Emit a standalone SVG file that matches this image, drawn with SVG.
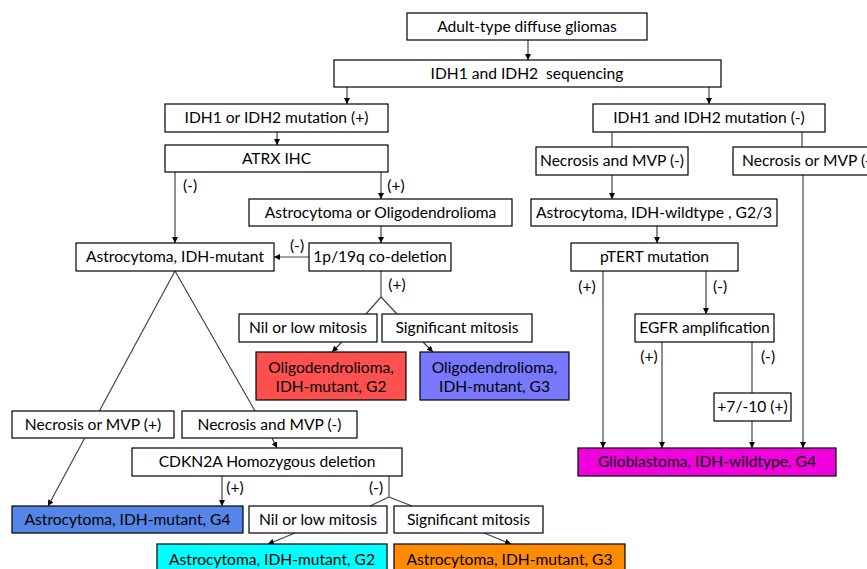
<svg xmlns="http://www.w3.org/2000/svg" width="867" height="569" viewBox="0 0 867 569">
<defs>
<marker id="ah" viewBox="0 0 6 6" refX="6" refY="3" markerWidth="6" markerHeight="6" markerUnits="userSpaceOnUse" orient="auto">
<path d="M0,0 L6,3 L0,6 z" fill="#000"/>
</marker>
<style>
rect{stroke:#000;stroke-width:1.2;fill:#fff}
text{font-family:Lato,"Liberation Sans",sans-serif;font-size:15.6px;fill:#000;text-anchor:middle}
.lb{font-size:15.6px}
#connectors line{stroke:#444;stroke-width:1.2;fill:none}
#connectors .a{marker-end:url(#ah)}
</style>
</defs>
<rect x="0" y="0" width="867" height="569" style="fill:#fff;stroke:none"/>
<g id="connectors">
<line class="a" x1="528" y1="40" x2="528" y2="60"/>
<line class="a" x1="347" y1="87" x2="347" y2="104"/>
<line class="a" x1="709" y1="87" x2="709" y2="104"/>
<line class="a" x1="277" y1="132" x2="277" y2="145"/>
<line class="a" x1="175" y1="172" x2="175" y2="243"/>
<line class="a" x1="381" y1="172" x2="381" y2="199"/>
<line class="a" x1="381" y1="226" x2="381" y2="243"/>
<line class="a" x1="309" y1="257" x2="274" y2="257"/>
<line x1="381" y1="271" x2="381" y2="297"/>
<line x1="381" y1="297" x2="366" y2="314"/>
<line x1="381" y1="297" x2="397" y2="314"/>
<line class="a" x1="342" y1="342" x2="332" y2="352"/>
<line class="a" x1="423" y1="342" x2="433" y2="352"/>
<line class="a" x1="175" y1="271" x2="48" y2="506"/>
<line x1="175" y1="271" x2="255" y2="411"/>
<line class="a" x1="272" y1="438" x2="277" y2="448"/>
<line class="a" x1="222" y1="476" x2="222" y2="506"/>
<line x1="389" y1="476" x2="389" y2="497"/>
<line x1="389" y1="497" x2="370" y2="506"/>
<line x1="389" y1="497" x2="412" y2="506"/>
<line class="a" x1="295" y1="533" x2="268" y2="544"/>
<line class="a" x1="484" y1="533" x2="511" y2="544"/>
<line x1="612" y1="132" x2="612" y2="147"/>
<line x1="802" y1="132" x2="802" y2="147"/>
<line class="a" x1="612" y1="175" x2="612" y2="199"/>
<line class="a" x1="657" y1="226" x2="657" y2="243"/>
<line class="a" x1="603" y1="271" x2="603" y2="448"/>
<line class="a" x1="706" y1="271" x2="706" y2="314"/>
<line class="a" x1="662" y1="342" x2="662" y2="448"/>
<line x1="752" y1="342" x2="752" y2="393"/>
<line class="a" x1="752" y1="421" x2="752" y2="448"/>
<line class="a" x1="803" y1="175" x2="803" y2="448"/>
<text class="lb" x="190" y="191">(-)</text>
<text class="lb" x="396" y="191">(+)</text>
<text class="lb" x="297" y="251">(-)</text>
<text class="lb" x="397" y="290">(+)</text>
<text class="lb" x="587" y="292">(+)</text>
<text class="lb" x="720" y="292">(-)</text>
<text class="lb" x="649" y="362">(+)</text>
<text class="lb" x="768" y="362">(-)</text>
<text class="lb" x="235" y="493">(+)</text>
<text class="lb" x="376" y="493">(-)</text>
</g>
<g id="n-adult"><rect x="407" y="13" width="240" height="27"/><text x="527" y="32">Adult-type diffuse gliomas</text></g>
<g id="n-seq"><rect x="334" y="60" width="387" height="27"/><text x="527" y="79" xml:space="preserve">IDH1 and IDH2  sequencing</text></g>
<g id="n-idhpos"><rect x="165" y="104" width="223" height="28"/><text x="276.5" y="123">IDH1 or IDH2 mutation (+)</text></g>
<g id="n-idhneg"><rect x="593" y="104" width="232" height="28"/><text x="709" y="123">IDH1 and IDH2 mutation (-)</text></g>
<g id="n-atrx"><rect x="165" y="145" width="223" height="27"/><text x="276.5" y="164">ATRX IHC</text></g>
<g id="n-necneg-r"><rect x="536" y="147" width="152" height="28"/><text x="612" y="166">Necrosis and MVP (-)</text></g>
<g id="n-necpos-r"><rect x="733" y="147" width="140" height="28"/><text x="742" y="166" style="text-anchor:start">Necrosis or MVP (+)</text></g>
<g id="n-astroligo"><rect x="249" y="199" width="263" height="27"/><text x="380.5" y="218">Astrocytoma or Oligodendrolioma</text></g>
<g id="n-astrowt"><rect x="531" y="199" width="246" height="27"/><text x="654" y="218">Astrocytoma, IDH-wildtype , G2/3</text></g>
<g id="n-astromut"><rect x="76" y="243" width="198" height="28"/><text x="175" y="262">Astrocytoma, IDH-mutant</text></g>
<g id="n-codel"><rect x="309" y="243" width="142" height="28"/><text x="380" y="262">1p/19q co-deletion</text></g>
<g id="n-ptert"><rect x="571" y="243" width="167" height="28"/><text x="654.5" y="262">pTERT mutation</text></g>
<g id="n-nil1"><rect x="239" y="314" width="138" height="28"/><text x="308" y="333">Nil or low mitosis</text></g>
<g id="n-sig1"><rect x="382" y="314" width="150" height="28"/><text x="457" y="333">Significant mitosis</text></g>
<g id="n-egfr"><rect x="635" y="314" width="139" height="28"/><text x="704.5" y="333">EGFR amplification</text></g>
<g id="n-oligo2"><rect x="256" y="352" width="150" height="48" style="fill:#ff5050"/><text x="331" y="373">Oligodendrolioma,</text><text x="331" y="392">IDH-mutant, G2</text></g>
<g id="n-oligo3"><rect x="420" y="352" width="149" height="48" style="fill:#7878ff"/><text x="494.5" y="373">Oligodendrolioma,</text><text x="494.5" y="392">IDH-mutant, G3</text></g>
<g id="n-710"><rect x="714" y="393" width="77" height="28"/><text x="752.5" y="412">+7/-10 (+)</text></g>
<g id="n-necpos-l"><rect x="12" y="411" width="162" height="27"/><text x="93" y="430">Necrosis or MVP (+)</text></g>
<g id="n-necneg-l"><rect x="182" y="411" width="175" height="27"/><text x="269.5" y="430">Necrosis and MVP (-)</text></g>
<g id="n-cdkn2a"><rect x="132" y="448" width="270" height="28"/><text x="267" y="467">CDKN2A Homozygous deletion</text></g>
<g id="n-gbm"><rect x="578" y="448" width="258" height="28" style="fill:#f000dc"/><text x="707" y="467">Glioblastoma, IDH-wildtype, G4</text></g>
<g id="n-astro4"><rect x="12" y="506" width="231" height="27" style="fill:#5585e6"/><text x="127.5" y="525">Astrocytoma, IDH-mutant, G4</text></g>
<g id="n-nil2"><rect x="249" y="506" width="138" height="27"/><text x="318" y="525">Nil or low mitosis</text></g>
<g id="n-sig2"><rect x="394" y="506" width="149" height="27"/><text x="468.5" y="525">Significant mitosis</text></g>
<g id="n-astro2"><rect x="157" y="544" width="230" height="30" style="fill:#00ffff"/><text x="272" y="565">Astrocytoma, IDH-mutant, G2</text></g>
<g id="n-astro3"><rect x="394" y="544" width="231" height="30" style="fill:#ff8c00"/><text x="509.5" y="565">Astrocytoma, IDH-mutant, G3</text></g>
</svg>
